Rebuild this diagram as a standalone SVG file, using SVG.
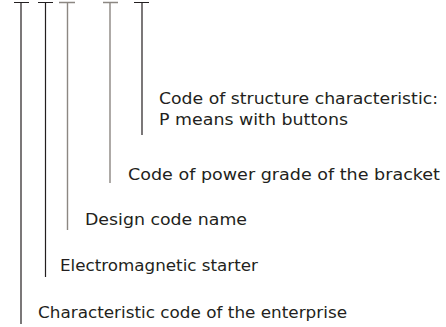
<svg xmlns="http://www.w3.org/2000/svg" width="446" height="327" viewBox="0 0 446 327">
<style>
.dk{stroke:#231f20;stroke-width:1.2;fill:none}
.gy{stroke:#8c8782;stroke-width:1.4;fill:none}
text{font-family:"DejaVu Sans","Liberation Sans",sans-serif;font-size:15px;fill:#231f20}
</style>
<rect width="446" height="327" fill="#fff"/>
<g id="connectors">
<path class="dk" d="M14 2.5H29M21 2.5V324"/>
<path class="dk" d="M38 2.5H53M45.5 2.5V277"/>
<path class="gy" d="M59 2.5H75M67.5 2.5V230"/>
<path class="gy" d="M103 2.5H118M110 2.5V183"/>
<path class="dk" d="M134 2.5H149M142 2.5V135"/>
</g>
<g id="n5"><text x="159" y="104" textLength="279" lengthAdjust="spacingAndGlyphs">Code of structure characteristic:</text>
<text x="159" y="125" textLength="189" lengthAdjust="spacingAndGlyphs">P means with buttons</text></g>
<g id="n4"><text x="128" y="180" textLength="312" lengthAdjust="spacingAndGlyphs">Code of power grade of the bracket</text></g>
<g id="n3"><text x="85" y="225" textLength="162" lengthAdjust="spacingAndGlyphs">Design code name</text></g>
<g id="n2"><text x="60" y="271" textLength="198" lengthAdjust="spacingAndGlyphs">Electromagnetic starter</text></g>
<g id="n1"><text x="38" y="318" textLength="309" lengthAdjust="spacingAndGlyphs">Characteristic code of the enterprise</text></g>
</svg>
